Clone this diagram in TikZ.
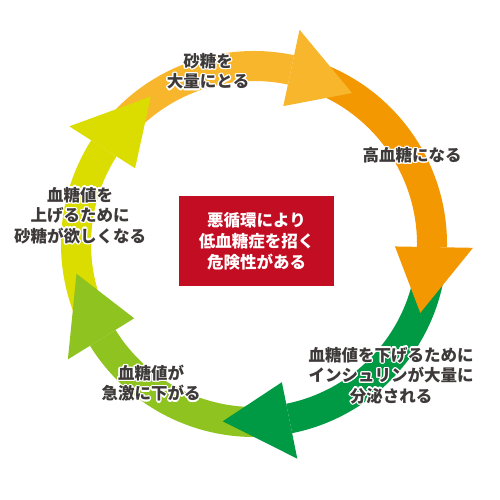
\documentclass[tikz,border=0pt]{standalone}
\usepackage{fontspec}
\setmainfont{Noto Sans CJK JP}
\usepackage{contour}
\contourlength{1.3pt}
\definecolor{cA}{HTML}{F8B62D}
\definecolor{cB}{HTML}{F39800}
\definecolor{cC}{HTML}{009944}
\definecolor{cD}{HTML}{8FC31F}
\definecolor{cE}{HTML}{DBDC00}
\definecolor{boxred}{HTML}{C30D23}
\definecolor{txt}{HTML}{3E3A39}
\newcommand\cycband[3]{%
  \fill[#1] ([shift={(#2:193)}]C) arc[start angle=#2,end angle=#3,radius=193]
    -- ([shift={(#3:163)}]C) arc[start angle=#3,end angle=#2,radius=163] -- cycle;}
\newcommand\cychead[3]{%
  \fill[#1] ([shift={(#2:141)}]C) -- ([shift={(#2:219)}]C) -- ([shift={(#3:180)}]C) -- cycle;}
\newcommand\hl[1]{\contour{white}{#1}}
\tikzset{
  lbl/.style={align=center, text=txt, inner sep=0pt,
    font=\fontsize{16.5}{20.5}\selectfont\bfseries},
  redbox/.style={fill=boxred, text=white, align=center, inner sep=0pt,
    minimum width=155pt, minimum height=90pt,
    font=\fontsize{16.5}{21}\selectfont\bfseries}
}
\begin{document}
\begin{tikzpicture}[x=1pt,y=1pt]
\useasboundingbox[fill=white] (0,0) rectangle (500,500);
\coordinate (C) at (254,256);
% bands
\cycband{cA}{141.5}{78}
\cycband{cB}{72}{-1}
\cycband{cC}{-7}{-78.6}
\cycband{cD}{-84.6}{-148.2}
\cycband{cE}{205.8}{147.5}
% heads
\cychead{cA}{78}{57}
\cychead{cB}{-1}{-22.5}
\cychead{cC}{-78.6}{-100}
\cychead{cD}{-148.2}{-170.5}
\cychead{cE}{147.5}{125}
% center box
\node[redbox] (box) at (256.5,259) {悪循環により\\低血糖症を招く\\危険性がある};
% labels
\node[lbl] (t1) at (208,428) {\hl{砂糖を}\\\hl{大量にとる}};
\node[lbl] (t2) at (412,344) {\hl{高血糖になる}};
\node[lbl] (t3) at (391,124) {\hl{血糖値を下げるために}\\\hl{インシュリンが大量に}\\\hl{分泌される}};
\node[lbl] (t4) at (151,116) {\hl{血糖値が}\\\hl{急激に下がる}};
\node[lbl] (t5) at (80,284) {\hl{血糖値を}\\\hl{上げるために}\\\hl{砂糖が欲しくなる}};
\end{tikzpicture}
\end{document}
